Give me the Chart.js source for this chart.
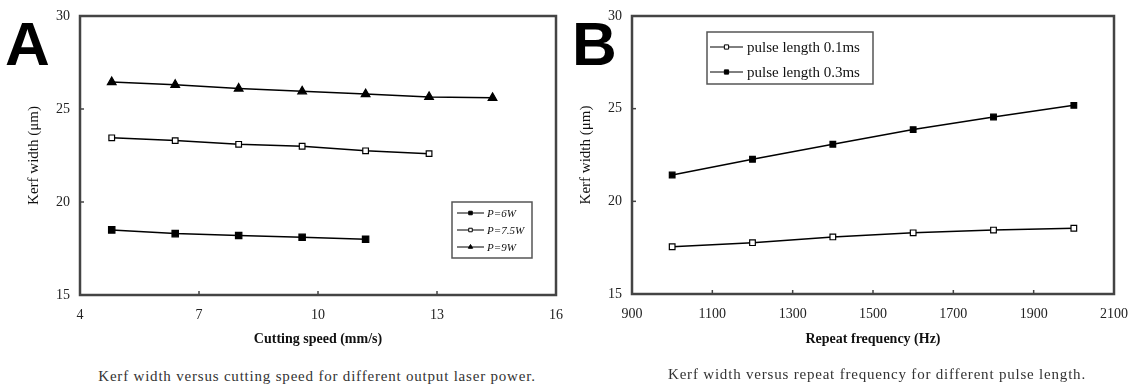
<!DOCTYPE html>
<html>
<head>
<meta charset="utf-8">
<script src="https://cdn.jsdelivr.net/npm/chart.js@4.4.1/dist/chart.umd.min.js"></script>
<style>
  body { margin:0; background:#fff; width:1134px; height:385px; overflow:hidden; position:relative; font-family:'Liberation Serif', serif; }
  canvas { position:absolute; top:0; }
  #chartA { left:0; }
  #chartB { left:560px; }
  .big { position:absolute; font-family:'Liberation Sans', Arial, sans-serif; font-weight:bold; font-size:62px; line-height:62px; color:#000; }
  .cap { position:absolute; font-size:15px; color:#333; text-align:center; letter-spacing:0.8px; white-space:nowrap; }
</style>
</head>
<body>
<canvas id="chartA" width="570" height="350"></canvas>
<canvas id="chartB" width="574" height="350"></canvas>
<div class="big" style="left:5px;top:13px">A</div>
<div class="big" style="left:572px;top:13px">B</div>
<div class="cap" style="left:17px;width:600px;top:368px">Kerf width versus cutting speed for different output laser power.</div>
<div class="cap" style="left:577px;width:600px;top:366px">Kerf width versus repeat frequency for different pulse length.</div>
<script>
// panel A : kerf width vs cutting speed
const speedA = [4.8, 6.4, 8.0, 9.6, 11.2, 12.8, 14.4];
const kerf6W = [18.5, 18.3, 18.2, 18.1, 18.0];
const kerf75W = [23.45, 23.3, 23.1, 23.0, 22.75, 22.6];
const kerf9W = [26.45, 26.3, 26.1, 25.95, 25.8, 25.65, 25.6];
const speedTicks = [4, 7, 10, 13, 16];

// panel B : kerf width vs repeat frequency
const freqB = [1000, 1200, 1400, 1600, 1800, 2000];
const kerf01 = [17.55, 17.77, 18.08, 18.3, 18.45, 18.55];
const kerf03 = [21.42, 22.27, 23.08, 23.87, 24.55, 25.18];
const freqTicks = [900, 1100, 1300, 1500, 1700, 1900, 2100];

const kerfTicks = [15, 20, 25, 30];

const pts = (xs, ys) => ys.map((v, i) => ({x: xs[i], y: v}));

const frame = {
  id: 'frame',
  beforeDatasetsDraw(chart) {
    const {ctx, chartArea: a, scales: {x, y}} = chart;
    ctx.save();
    ctx.strokeStyle = '#444';
    ctx.lineWidth = 1.5;
    x.ticks.forEach(t => {
      const px = x.getPixelForValue(t.value);
      ctx.beginPath(); ctx.moveTo(px, a.bottom); ctx.lineTo(px, a.bottom - 4); ctx.stroke();
    });
    y.ticks.forEach(t => {
      const py = y.getPixelForValue(t.value);
      ctx.beginPath(); ctx.moveTo(a.left, py); ctx.lineTo(a.left + 4, py); ctx.stroke();
    });
    ctx.lineWidth = 2.5;
    ctx.strokeRect(a.left, a.top, a.right - a.left, a.bottom - a.top);
    ctx.restore();
  }
};

const boxLegend = {
  id: 'boxLegend',
  afterDraw(chart, args, o) {
    const ctx = chart.ctx;
    ctx.save();
    ctx.fillStyle = '#fff';
    ctx.fillRect(o.x, o.y, o.w, o.h);
    ctx.strokeStyle = '#555';
    ctx.lineWidth = 1.5;
    ctx.strokeRect(o.x, o.y, o.w, o.h);
    chart.data.datasets.forEach((ds, i) => {
      const y = o.rows[i];
      ctx.strokeStyle = '#000';
      ctx.lineWidth = 1;
      ctx.beginPath(); ctx.moveTo(o.x0, y); ctx.lineTo(o.x1, y); ctx.stroke();
      ctx.fillStyle = ds.pointBackgroundColor;
      ctx.strokeStyle = '#000';
      Chart.helpers.drawPoint(ctx, {pointStyle: ds.pointStyle, radius: o.r, borderWidth: 1, rotation: 0}, (o.x0 + o.x1) / 2, y);
      ctx.fillStyle = '#111';
      ctx.font = o.font;
      ctx.textBaseline = 'middle';
      ctx.fillText(ds.label, o.tx, y + 1);
    });
    ctx.restore();
  }
};

function line(label, data, style, fill, r) {
  return {
    label: label, data: data,
    borderColor: '#000', borderWidth: 1.5, tension: 0,
    pointStyle: style, pointRadius: r, pointBackgroundColor: fill,
    pointBorderColor: '#000', pointBorderWidth: 1.2
  };
}

function makeOptions(xMin, xMax, xTicks, xTitle, pad, yW, xH, legend) {
  return {
    responsive: false,
    animation: false,
    layout: {padding: pad},
    plugins: {legend: {display: false}, tooltip: {enabled: false}, boxLegend: legend},
    scales: {
      x: {
        type: 'linear', min: xMin, max: xMax,
        afterBuildTicks: s => { s.ticks = xTicks.map(v => ({value: v})); },
        afterFit: s => { s.height = xH; s.paddingLeft = 0; s.paddingRight = 0; },
        grid: {display: false, drawTicks: false},
        border: {display: false},
        ticks: {padding: 12, color: '#222', font: {family: 'Liberation Serif', size: 14},
                callback: v => String(v)},
        title: {display: true, text: xTitle, color: '#111', padding: {top: 0, bottom: 2},
                font: {family: 'Liberation Serif', size: 14, weight: 'bold'}}
      },
      y: {
        min: 15, max: 30,
        afterBuildTicks: s => { s.ticks = kerfTicks.map(v => ({value: v})); },
        afterFit: s => { s.width = yW; s.paddingTop = 0; s.paddingBottom = 0; },
        grid: {display: false, drawTicks: false},
        border: {display: false},
        ticks: {padding: 10, color: '#222', font: {family: 'Liberation Serif', size: 14}},
        title: {display: true, text: 'Kerf width (μm)', color: '#111', padding: 0,
                font: {family: 'Liberation Serif', size: 15}}
      }
    }
  };
}

new Chart(document.getElementById('chartA'), {
  type: 'line',
  data: {
    datasets: [
      line('P=6W', pts(speedA, kerf6W), 'rect', '#000', 4.5),
      line('P=7.5W', pts(speedA, kerf75W), 'rect', '#fff', 4),
      line('P=9W', pts(speedA, kerf9W), 'triangle', '#000', 5)
    ]
  },
  options: makeOptions(4, 16, speedTicks, 'Cutting speed (mm/s)',
    {left: 25, top: 16, right: 14, bottom: 0}, 55, 55,
    {x: 452, y: 202, w: 80, h: 56, rows: [213, 230, 247], x0: 457, x1: 484, tx: 487, r: 2.5,
     font: 'italic 11px Liberation Serif'}),
  plugins: [frame, boxLegend]
});

new Chart(document.getElementById('chartB'), {
  type: 'line',
  data: {
    datasets: [
      line('pulse length 0.1ms', pts(freqB, kerf01), 'rect', '#fff', 4),
      line('pulse length 0.3ms', pts(freqB, kerf03), 'rect', '#000', 4)
    ]
  },
  options: makeOptions(900, 2100, freqTicks, 'Repeat frequency (Hz)',
    {left: 17, top: 16, right: 20, bottom: 0}, 55, 56,
    {x: 147, y: 32, w: 166, h: 52, rows: [47, 72], x0: 150, x1: 183, tx: 187, r: 3,
     font: '15px Liberation Serif'}),
  plugins: [frame, boxLegend]
});
</script>
</body>
</html>
